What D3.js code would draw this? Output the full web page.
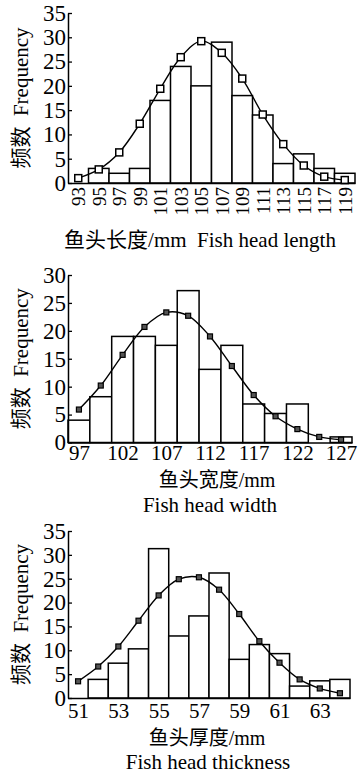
<!DOCTYPE html>
<html>
<head>
<meta charset="utf-8">
<script src="https://cdn.jsdelivr.net/npm/d3@7"></script>
<style>
body { margin: 0; background: #fff; }
svg text { font-family: "Liberation Serif", "Noto Sans CJK SC", serif; fill: #000; white-space: pre; }
</style>
</head>
<body>
<svg id="chart" width="358" height="773"></svg>
<script>
// fish head length
var lengthBins = [95, 97, 99, 101, 103, 105, 107, 109, 111, 113, 115, 117, 119];
var lengthBinWidth = 2;
var lengthCounts = [3, 2, 3, 17, 24, 20, 29, 18, 14, 4, 6, 3, 2];
var lengthFitX = [93, 95, 97, 99, 101, 103, 105, 107, 109, 111, 113, 115, 117, 119];
var lengthFit = [1.0, 2.8, 6.3, 12.2, 19.4, 25.9, 29.2, 26.8, 21.5, 14.1, 8.0, 3.6, 1.3, 0.6];
var lengthTicks = [93, 95, 97, 99, 101, 103, 105, 107, 109, 111, 113, 115, 117, 119];

// fish head width
var widthBins = [97, 99.5, 102, 104.5, 107, 109.5, 112, 114.5, 117, 119.5, 122, 124.5, 127];
var widthBinWidth = 2.5;
var widthCounts = [4, 8.2, 19, 19, 17.4, 27.2, 13.1, 17.4, 6.9, 5.2, 6.9, 0, 1];
var widthFit = [5.9, 10.2, 15.7, 20.7, 23.3, 22.7, 19.0, 13.7, 8.5, 4.7, 2.4, 1.0, 0.5];
var widthTicks = [97, 102, 107, 112, 117, 122, 127];

// fish head thickness
var thickBins = [52, 53, 54, 55, 56, 57, 58, 59, 60, 61, 62, 63, 64];
var thickBinWidth = 1;
var thickCounts = [3.9, 7.3, 10.3, 31.3, 13.0, 17.2, 26.2, 8.1, 11.2, 9.3, 2.5, 3.6, 3.9];
var thickFitX = [51, 52, 53, 54, 55, 56, 57, 58, 59, 60, 61, 62, 63, 64];
var thickFit = [3.5, 6.6, 10.8, 16.2, 21.5, 24.9, 25.3, 22.7, 17.6, 11.9, 7.4, 3.9, 2.0, 1.0];
var thickTicks = [51, 53, 55, 57, 59, 61, 63];

var svg = d3.select("#chart");

function drawPanel(p) {
	var x = d3.scaleLinear().domain(p.xDomain).range([p.left, p.right]);
	var y = d3.scaleLinear().domain([0, p.yMax]).range([p.bottom, p.top]);
	var g = svg.append("g");

	// bars
	g.selectAll("rect.bar")
		.data(p.bins.map(function(b, i) { return {c: b, v: p.counts[i]}; }))
		.enter().append("rect")
		.attr("class", "bar")
		.attr("x", function(d) { return x(d.c - p.binWidth / 2); })
		.attr("width", function(d) { return x(d.c + p.binWidth / 2) - x(d.c - p.binWidth / 2); })
		.attr("y", function(d) { return y(d.v); })
		.attr("height", function(d) { return y(0) - y(d.v); })
		.attr("fill", "#fff")
		.attr("stroke", "#000")
		.attr("stroke-width", 1.5);

	// fitted curve
	var pts = p.fitX.map(function(v, i) { return [v, p.fit[i]]; });
	var line = d3.line()
		.x(function(d) { return x(d[0]); })
		.y(function(d) { return y(d[1]); })
		.curve(d3.curveCatmullRom.alpha(0.5));
	g.append("path")
		.attr("d", line(pts))
		.attr("fill", "none")
		.attr("stroke", "#000")
		.attr("stroke-width", 1.4);

	g.selectAll("rect.pt")
		.data(pts)
		.enter().append("rect")
		.attr("class", "pt")
		.attr("x", function(d) { return x(d[0]) - p.mark / 2; })
		.attr("y", function(d) { return y(d[1]) - p.mark / 2; })
		.attr("width", p.mark)
		.attr("height", p.mark)
		.attr("fill", p.markFill)
		.attr("stroke", "#000")
		.attr("stroke-width", p.markStroke);

	// axes
	var ya = g.append("g")
		.attr("transform", "translate(" + p.left + ",0)")
		.call(d3.axisLeft(y).tickValues(d3.range(0, p.yMax + 1, 5)).tickSizeInner(-4).tickSizeOuter(0).tickPadding(2));
	ya.selectAll("text").style("font-size", "23px");

	var xa = g.append("g")
		.attr("transform", "translate(0," + p.bottom + ")")
		.call(d3.axisBottom(x).tickValues(p.ticks).tickSize(0).tickPadding(p.xPad));
	if (p.rotate) {
		xa.selectAll("text")
			.attr("transform", "rotate(-90)")
			.attr("text-anchor", "end")
			.attr("x", -4)
			.attr("y", 0)
			.attr("dy", "0.35em")
			.style("font-size", "19px");
	} else {
		xa.selectAll("text").style("font-size", "21px");
	}
	g.selectAll(".domain").attr("stroke", "#000").attr("stroke-width", 1.5);
	g.selectAll(".tick line").attr("stroke", "#000").attr("stroke-width", 1.3);

	// y label
	g.append("text")
		.attr("transform", "translate(28," + (p.top + p.bottom) / 2 + ") rotate(-90)")
		.attr("text-anchor", "middle")
		.style("font-size", "21px")
		.text("频数  Frequency");

	p.titles.forEach(function(t) {
		g.append("text")
			.attr("x", t.x)
			.attr("y", t.y)
			.attr("text-anchor", "middle")
			.style("font-size", t.size || "21px")
			.text(t.text);
	});
}

drawPanel({
	bins: lengthBins, binWidth: lengthBinWidth, counts: lengthCounts,
	fitX: lengthFitX, fit: lengthFit, ticks: lengthTicks,
	xDomain: [92, 120], yMax: 35,
	left: 68, right: 355, top: 13, bottom: 183,
	mark: 7, markFill: "#fff", markStroke: 1.5, rotate: true, xPad: 4,
	titles: [{x: 200, y: 247, text: "鱼头长度/mm  Fish head length"}]
});

drawPanel({
	bins: widthBins, binWidth: widthBinWidth, counts: widthCounts,
	fitX: widthBins, fit: widthFit, ticks: widthTicks,
	xDomain: [95.75, 128.25], yMax: 30,
	left: 68, right: 352, top: 275, bottom: 442.5,
	mark: 5, markFill: "#555", markStroke: 1.2, rotate: false, xPad: 3,
	titles: [{x: 217, y: 487, text: "鱼头宽度/mm", size: "20px"}, {x: 210, y: 512, text: "Fish head width"}]
});

drawPanel({
	bins: thickBins, binWidth: thickBinWidth, counts: thickCounts,
	fitX: thickFitX, fit: thickFit, ticks: thickTicks,
	xDomain: [50.5, 64.5], yMax: 35,
	left: 68, right: 350, top: 531, bottom: 698,
	mark: 5, markFill: "#555", markStroke: 1.2, rotate: false, xPad: 5,
	titles: [{x: 207, y: 745, text: "鱼头厚度/mm", size: "20px"}, {x: 208, y: 769, text: "Fish head thickness"}]
});
</script>
</body>
</html>
